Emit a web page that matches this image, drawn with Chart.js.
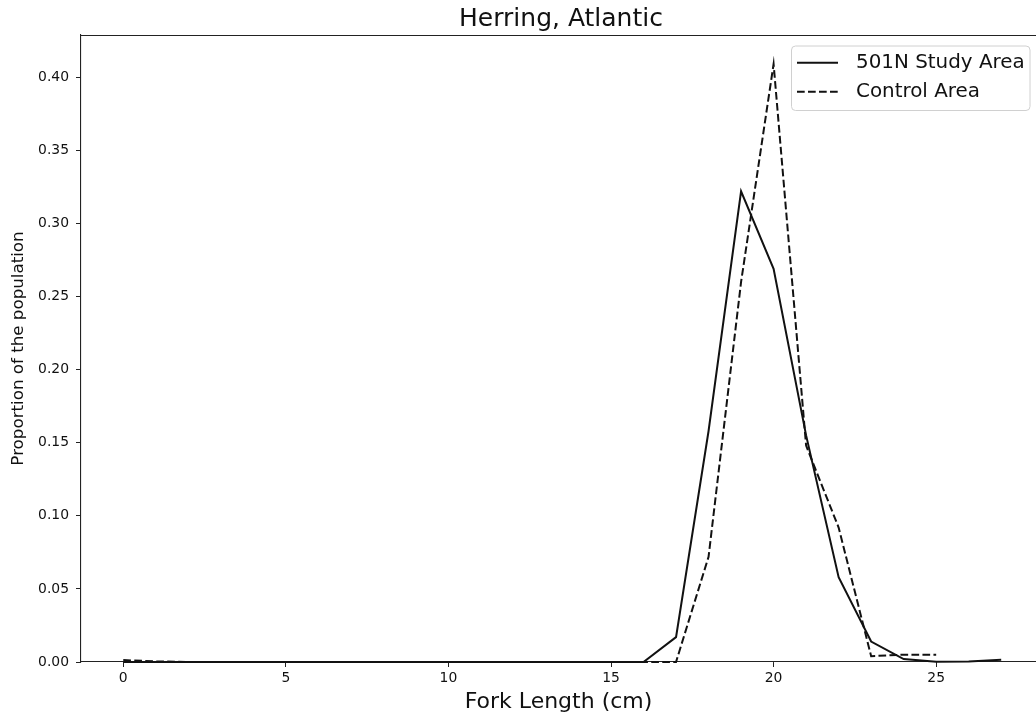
<!DOCTYPE html>
<html>
<head>
<meta charset="utf-8">
<title>Herring, Atlantic</title>
<script src="https://cdn.jsdelivr.net/npm/chart.js@4/dist/chart.umd.min.js"></script>
<style>
  html, body { margin: 0; padding: 0; background: #fff; overflow: hidden; }
  canvas { display: block; }
</style>
</head>
<body>
<canvas id="chart" width="1036" height="719"></canvas>
<script>
'use strict';

// fork length bins (cm)
let lengths = [0, 1, 2, 3, 4, 5, 6, 7, 8, 9, 10, 11, 12, 13, 14, 15, 16, 17, 18, 19, 20, 21, 22, 23, 24, 25, 26, 27];

// proportion of fish per length bin
let studyArea = [0, 0, 0, 0, 0, 0, 0, 0, 0, 0, 0, 0, 0, 0, 0, 0, 0,
  0.017, 0.158, 0.322, 0.269, 0.155, 0.058, 0.014, 0.002, 0.0002, 0.0003, 0.0015];
let controlArea = [0.0013, 0.0004, 0, 0, 0, 0, 0, 0, 0, 0, 0, 0, 0, 0, 0, 0, 0,
  0, 0.072, 0.26, 0.409, 0.148, 0.092, 0.004, 0.005, 0.005];

let seriesNames = ['501N Study Area', 'Control Area'];
let yTicks = [0, 0.05, 0.1, 0.15, 0.2, 0.25, 0.3, 0.35, 0.4];
let xTicks = [0, 5, 10, 15, 20, 25];

const FONT = "'DejaVu Sans', sans-serif";
const INK = '#111';
const SPINE = '#222';

function toPoints(values) {
  let pts = [];
  for (let i = 0; i < values.length; i++) {
    pts.push({ x: lengths[i], y: values[i] });
  }
  return pts;
}

// title above the axes box, centred on the full axes width
const titlePlugin = {
  id: 'axesTitle',
  afterDraw(chart) {
    const { ctx, chartArea } = chart;
    ctx.save();
    ctx.fillStyle = INK;
    ctx.font = '25px ' + FONT;
    ctx.textAlign = 'center';
    ctx.textBaseline = 'alphabetic';
    ctx.fillText('Herring, Atlantic', (chartArea.left + 1041) / 2, 26);
    ctx.restore();
  }
};

// top spine of the axes box
const framePlugin = {
  id: 'frame',
  afterDraw(chart) {
    const { ctx, chartArea } = chart;
    ctx.save();
    ctx.strokeStyle = SPINE;
    ctx.lineWidth = 1.1;
    ctx.beginPath();
    ctx.moveTo(chartArea.left, chartArea.top + 0.5);
    ctx.lineTo(chart.width, chartArea.top + 0.5);
    ctx.stroke();
    ctx.restore();
  }
};

// legend box in the upper right corner
const legendPlugin = {
  id: 'boxLegend',
  afterDraw(chart) {
    const { ctx } = chart;
    const x = 791.5, y = 46, w = 238.5, h = 64.5, r = 4;
    ctx.save();
    ctx.fillStyle = 'rgba(255,255,255,0.8)';
    ctx.strokeStyle = '#d0d0d0';
    ctx.lineWidth = 1;
    ctx.beginPath();
    ctx.roundRect(x, y, w, h, r);
    ctx.fill();
    ctx.stroke();
    chart.data.datasets.forEach((ds, i) => {
      const cy = 62.7 + i * 29;
      ctx.strokeStyle = ds.borderColor;
      ctx.lineWidth = ds.borderWidth;
      ctx.setLineDash(ds.borderDash || []);
      ctx.beginPath();
      ctx.moveTo(797, cy);
      ctx.lineTo(838, cy);
      ctx.stroke();
      ctx.setLineDash([]);
      ctx.fillStyle = INK;
      ctx.font = '19.9px ' + FONT;
      ctx.textAlign = 'left';
      ctx.textBaseline = 'middle';
      ctx.fillText(ds.label, 856, cy);
    });
    ctx.restore();
  }
};

let canvasElem = document.getElementById('chart');

let chartObj = {
  type: 'line',
  data: {
    datasets: [
      {
        label: seriesNames[0],
        data: toPoints(studyArea),
        borderColor: INK,
        borderWidth: 2,
        pointRadius: 0,
        tension: 0,
        fill: false,
        clip: 4
      },
      {
        label: seriesNames[1],
        data: toPoints(controlArea),
        borderColor: INK,
        borderWidth: 2,
        borderDash: [7.7, 3.3],
        pointRadius: 0,
        tension: 0,
        fill: false,
        clip: 4
      }
    ]
  },
  options: {
    responsive: false,
    animation: false,
    layout: { padding: { top: 35, right: 0, left: 0, bottom: 0 } },
    plugins: {
      legend: { display: false },
      title: { display: false },
      tooltip: { enabled: false }
    },
    scales: {
      x: {
        type: 'linear',
        min: -1.30,
        max: 28.07,
        afterFit(scale) { scale.height = 57; },
        afterBuildTicks(scale) { scale.ticks = xTicks.map(v => ({ value: v })); },
        border: { display: true, color: SPINE, width: 1.1 },
        grid: { drawOnChartArea: false, drawTicks: true, tickLength: 5, tickColor: SPINE, tickWidth: 1 },
        ticks: {
          color: INK,
          padding: 3,
          maxRotation: 0,
          font: { family: FONT, size: 13.9 },
          callback: v => String(v)
        },
        title: {
          display: true,
          text: 'Fork Length (cm)',
          color: INK,
          font: { family: FONT, size: 22 },
          padding: { top: 0, bottom: 4 }
        }
      },
      y: {
        type: 'linear',
        min: 0,
        max: 0.4289,
        afterFit(scale) { scale.width = 81; },
        afterBuildTicks(scale) { scale.ticks = yTicks.map(v => ({ value: v })); },
        border: { display: true, color: SPINE, width: 1.1 },
        grid: { drawOnChartArea: false, drawTicks: true, tickLength: 5, tickColor: SPINE, tickWidth: 1 },
        ticks: {
          color: INK,
          padding: 7,
          font: { family: FONT, size: 13.9 },
          callback: v => v.toFixed(2)
        },
        title: {
          display: true,
          text: 'Proportion of the population',
          color: INK,
          font: { family: FONT, size: 16.7 },
          padding: { top: 9, bottom: 0 }
        }
      }
    }
  },
  plugins: [titlePlugin, framePlugin, legendPlugin]
};

new Chart(canvasElem, chartObj);
</script>
</body>
</html>
